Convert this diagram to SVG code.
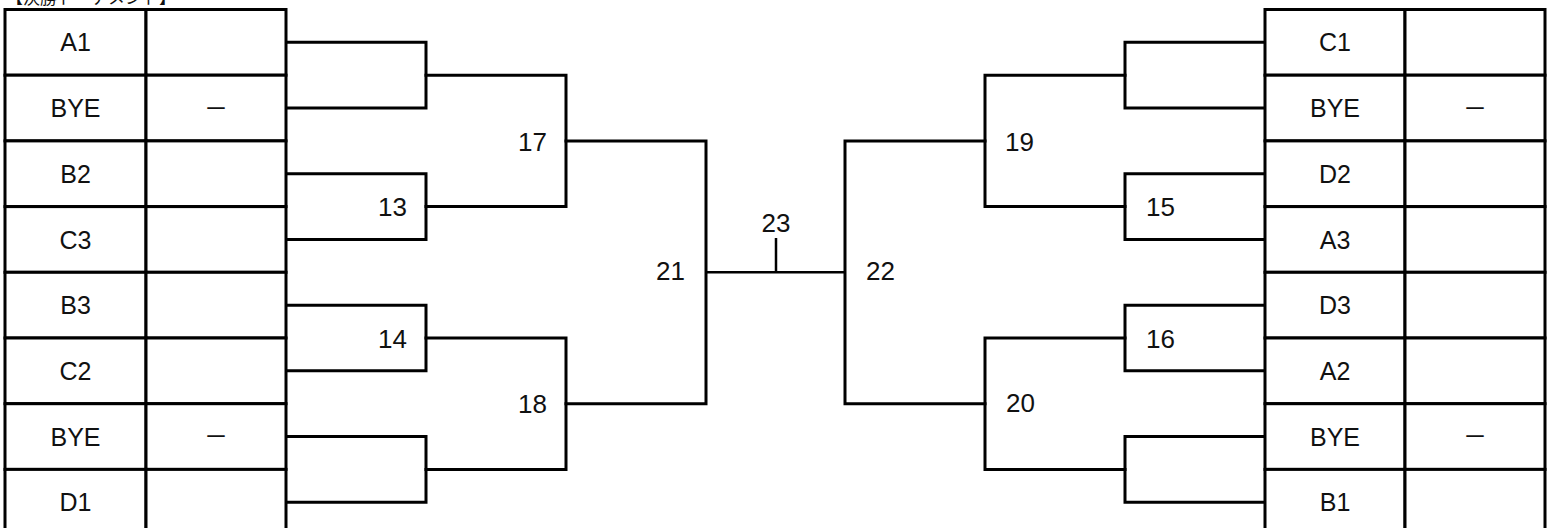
<svg xmlns="http://www.w3.org/2000/svg" width="1551" height="528" viewBox="0 0 1551 528">
<style>
  .bg { fill: #ffffff; }
  .cell { fill: #ffffff; stroke: #000000; stroke-width: 3; }
  .team { font-family: "Liberation Sans", "Noto Sans CJK JP", sans-serif; font-size: 25px; fill: #111111; text-anchor: middle; }
  .dash { font-family: "Noto Sans CJK JP", sans-serif; font-size: 24px; fill: #111111; text-anchor: middle; }
  .num { font-family: "Liberation Sans", "Noto Sans CJK JP", sans-serif; font-size: 26px; fill: #111111; }
  .num-l { text-anchor: end; }
  .num-r { text-anchor: start; }
  .num-c { text-anchor: middle; }
  .title { font-family: "Noto Sans CJK JP", sans-serif; font-size: 17px; fill: #111111; }
  .line { fill: none; stroke: #000000; stroke-width: 3; stroke-linejoin: miter; stroke-linecap: square; }
  .line-thin { fill: none; stroke: #000000; stroke-width: 2.5; stroke-linecap: butt; }
</style>
<rect class="bg" x="0" y="0" width="1551" height="528"/>
<text class="title" x="6" y="4">【決勝トーナメント】</text>

<g id="left-table">
  <g id="L1"><rect class="cell" x="5" y="9.5" width="141" height="65.7"/><rect class="cell" x="146" y="9.5" width="140" height="65.7"/><text class="team" x="75.5" y="51.4">A1</text></g>
  <g id="L2"><rect class="cell" x="5" y="75.2" width="141" height="65.7"/><rect class="cell" x="146" y="75.2" width="140" height="65.7"/><text class="team" x="75.5" y="117.1">BYE</text><text class="dash" x="216" y="116.5">－</text></g>
  <g id="L3"><rect class="cell" x="5" y="140.9" width="141" height="65.7"/><rect class="cell" x="146" y="140.9" width="140" height="65.7"/><text class="team" x="75.5" y="182.8">B2</text></g>
  <g id="L4"><rect class="cell" x="5" y="206.6" width="141" height="65.7"/><rect class="cell" x="146" y="206.6" width="140" height="65.7"/><text class="team" x="75.5" y="248.5">C3</text></g>
  <g id="L5"><rect class="cell" x="5" y="272.3" width="141" height="65.7"/><rect class="cell" x="146" y="272.3" width="140" height="65.7"/><text class="team" x="75.5" y="314.2">B3</text></g>
  <g id="L6"><rect class="cell" x="5" y="338" width="141" height="65.7"/><rect class="cell" x="146" y="338" width="140" height="65.7"/><text class="team" x="75.5" y="379.9">C2</text></g>
  <g id="L7"><rect class="cell" x="5" y="403.7" width="141" height="65.7"/><rect class="cell" x="146" y="403.7" width="140" height="65.7"/><text class="team" x="75.5" y="445.6">BYE</text><text class="dash" x="216" y="445">－</text></g>
  <g id="L8"><rect class="cell" x="5" y="469.4" width="141" height="65.7"/><rect class="cell" x="146" y="469.4" width="140" height="65.7"/><text class="team" x="75.5" y="511.3">D1</text></g>
</g>

<g id="right-table">
  <g id="R1"><rect class="cell" x="1265" y="9.5" width="140" height="65.7"/><rect class="cell" x="1405" y="9.5" width="140" height="65.7"/><text class="team" x="1335" y="51.4">C1</text></g>
  <g id="R2"><rect class="cell" x="1265" y="75.2" width="140" height="65.7"/><rect class="cell" x="1405" y="75.2" width="140" height="65.7"/><text class="team" x="1335" y="117.1">BYE</text><text class="dash" x="1475" y="116.5">－</text></g>
  <g id="R3"><rect class="cell" x="1265" y="140.9" width="140" height="65.7"/><rect class="cell" x="1405" y="140.9" width="140" height="65.7"/><text class="team" x="1335" y="182.8">D2</text></g>
  <g id="R4"><rect class="cell" x="1265" y="206.6" width="140" height="65.7"/><rect class="cell" x="1405" y="206.6" width="140" height="65.7"/><text class="team" x="1335" y="248.5">A3</text></g>
  <g id="R5"><rect class="cell" x="1265" y="272.3" width="140" height="65.7"/><rect class="cell" x="1405" y="272.3" width="140" height="65.7"/><text class="team" x="1335" y="314.2">D3</text></g>
  <g id="R6"><rect class="cell" x="1265" y="338" width="140" height="65.7"/><rect class="cell" x="1405" y="338" width="140" height="65.7"/><text class="team" x="1335" y="379.9">A2</text></g>
  <g id="R7"><rect class="cell" x="1265" y="403.7" width="140" height="65.7"/><rect class="cell" x="1405" y="403.7" width="140" height="65.7"/><text class="team" x="1335" y="445.6">BYE</text><text class="dash" x="1475" y="445">－</text></g>
  <g id="R8"><rect class="cell" x="1265" y="469.4" width="140" height="65.7"/><rect class="cell" x="1405" y="469.4" width="140" height="65.7"/><text class="team" x="1335" y="511.3">B1</text></g>
</g>

<g id="connectors">
  <!-- left round 1 -->
  <path class="line" d="M288 42.35 H426 V108.05 H288"/>
  <path class="line" d="M288 173.75 H426 V239.45 H288"/>
  <path class="line" d="M288 305.15 H426 V370.85 H288"/>
  <path class="line" d="M288 436.55 H426 V502.25 H288"/>
  <!-- left round 2 -->
  <path class="line" d="M426 75.2 H566 V206.6 H426"/>
  <path class="line" d="M426 338 H566 V469.4 H426"/>
  <!-- left semi -->
  <path class="line" d="M566 140.9 H706 V403.7 H566"/>
  <!-- right round 1 -->
  <path class="line" d="M1263 42.35 H1125 V108.05 H1263"/>
  <path class="line" d="M1263 173.75 H1125 V239.45 H1263"/>
  <path class="line" d="M1263 305.15 H1125 V370.85 H1263"/>
  <path class="line" d="M1263 436.55 H1125 V502.25 H1263"/>
  <!-- right round 2 -->
  <path class="line" d="M1125 75.2 H985 V206.6 H1125"/>
  <path class="line" d="M1125 338 H985 V469.4 H1125"/>
  <!-- right semi -->
  <path class="line" d="M985 140.9 H845 V403.7 H985"/>
  <!-- final -->
  <path class="line-thin" d="M706 272.3 H845"/>
  <path class="line-thin" d="M776 272.3 V238"/>
</g>

<g id="match-labels">
  <g id="m13"><text class="num num-l" x="407" y="216">13</text></g>
  <g id="m14"><text class="num num-l" x="407" y="347.5">14</text></g>
  <g id="m17"><text class="num num-l" x="547" y="150.7">17</text></g>
  <g id="m18"><text class="num num-l" x="547" y="413.2">18</text></g>
  <g id="m21"><text class="num num-l" x="685" y="280">21</text></g>
  <g id="m23"><text class="num num-c" x="776" y="231.5">23</text></g>
  <g id="m22"><text class="num num-r" x="866" y="280">22</text></g>
  <g id="m19"><text class="num num-r" x="1005" y="150.7">19</text></g>
  <g id="m20"><text class="num num-r" x="1006" y="411.5">20</text></g>
  <g id="m15"><text class="num num-r" x="1146" y="216">15</text></g>
  <g id="m16"><text class="num num-r" x="1146" y="347.5">16</text></g>
</g>
</svg>
